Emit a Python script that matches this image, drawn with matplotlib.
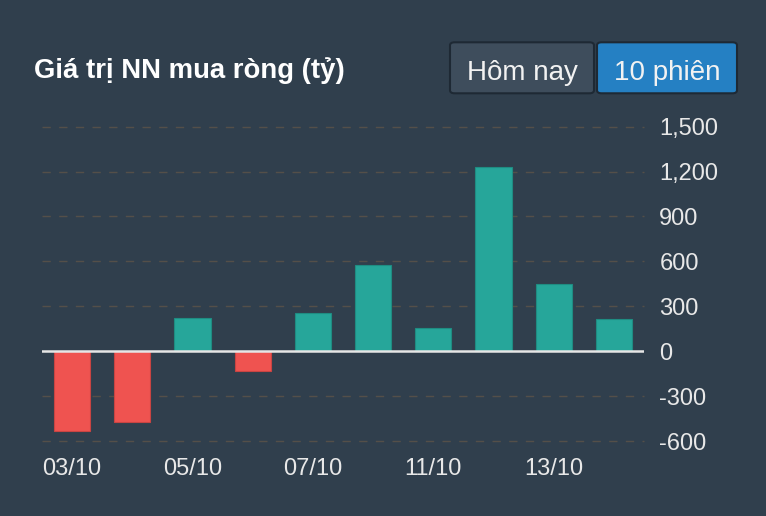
import matplotlib.pyplot as plt
from matplotlib.patches import FancyBboxPatch
from matplotlib.ticker import FuncFormatter

# daily net foreign buying value (ty dong)
dates = ['03/10', '04/10', '05/10', '06/10', '07/10',
         '10/10', '11/10', '12/10', '13/10', '14/10']
values = [-536, -473, 223, -134, 257, 576, 156, 1234, 451, 214]
y_ticks = [-600, -300, 0, 300, 600, 900, 1200, 1500]

title = 'Giá trị NN mua ròng (tỷ)'
buttons = ['Hôm nay', '10 phiên']

bg = '#303f4d'
up = '#26a69a'
down = '#ef5350'
txt = '#e8e8e8'

plt.rcParams['font.family'] = ['Liberation Sans', 'DejaVu Sans']

W, H = 766, 516
fig = plt.figure(figsize=(W / 100, H / 100), dpi=100, facecolor=bg)


def fx(px):
    return px / W


def fy(py):
    return 1 - py / H


# plot area in pixels: x 42..644, y 126.7..441
ax = fig.add_axes([fx(42), fy(441), fx(644 - 42), (441 - 126.7) / H])
ax.set_facecolor(bg)

x = list(range(len(dates)))
colors = [up if v >= 0 else down for v in values]
edges = ['#1f8c82' if v >= 0 else '#c94442' for v in values]
ax.bar(x, values, width=0.6, color=colors, edgecolor=edges, linewidth=0.8, zorder=3)

ax.set_xlim(-0.5, len(dates) - 0.5)
ax.set_ylim(-600, 1500)

for t in y_ticks:
    if t == 0:
        continue
    ax.axhline(t, color='#544f49', lw=1.0, ls=(0, (6, 6)), zorder=1, clip_on=False)
ax.axhline(0, color='#e6e6e6', lw=1.8, zorder=4)

ax.set_xticks(x[::2])
ax.set_xticklabels(dates[::2])
ax.set_yticks(y_ticks)
ax.yaxis.set_major_formatter(FuncFormatter(lambda v, p: f'{int(v):,}'))
ax.yaxis.tick_right()
ax.tick_params(axis='y', length=0, pad=11, labelsize=17, labelcolor=txt)
ax.tick_params(axis='x', length=0, pad=12, labelsize=17, labelcolor=txt)
for s in ax.spines.values():
    s.set_visible(False)

# title
fig.text(fx(34), fy(78), title, color='#ffffff', fontsize=19.8,
         fontweight='bold', ha='left', va='baseline')

# toggle buttons
btn_boxes = [(450, 594, '#3e4d5c', '#1e2934'), (597, 737, '#2580c3', '#1e2934')]
for (x0, x1, fc, ec), label in zip(btn_boxes, buttons):
    box = FancyBboxPatch((fx(x0), fy(93.3)), fx(x1 - x0), (93.3 - 42.3) / H,
                         boxstyle='round,pad=0,rounding_size=0.006',
                         transform=fig.transFigure, facecolor=fc,
                         edgecolor=ec, linewidth=1.5)
    fig.add_artist(box)
    fig.text(fx((x0 + x1) / 2), fy(79.5), label, color='#f2f2f2',
             fontsize=20, ha='center', va='baseline')

fig.savefig('out.png', dpi=100, facecolor=bg)
